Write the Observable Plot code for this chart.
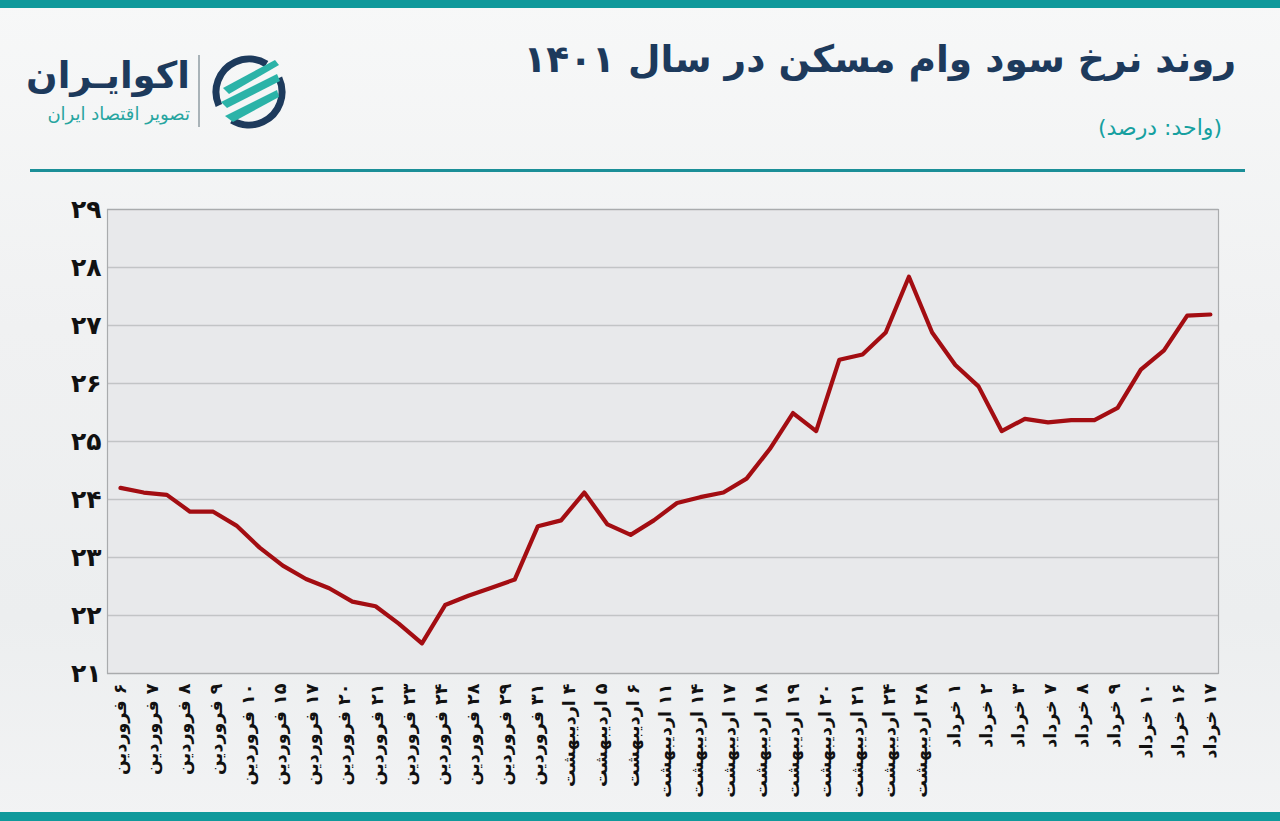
<!DOCTYPE html>
<html lang="fa">
<head>
<meta charset="utf-8">
<script src="https://cdn.jsdelivr.net/npm/d3@7"></script>
<script src="https://cdn.jsdelivr.net/npm/@observablehq/plot@0.6"></script>
<style>
html,body{margin:0;padding:0;}
body{width:1280px;height:821px;position:relative;overflow:hidden;
  background:linear-gradient(180deg,#f7f8f8 0%,#f0f1f2 40%,#eceeef 75%,#f2f3f4 100%);
  font-family:"DejaVu Sans",sans-serif;}
.topbar{position:absolute;left:0;top:0;width:1280px;height:8px;background:#0f999b;}
.botbar{position:absolute;left:0;top:812px;width:1280px;height:9px;background:#0f999b;}
.rule{position:absolute;left:30px;top:169px;width:1215px;height:3px;background:#1b8f98;}
.title{position:absolute;right:44px;top:37px;direction:rtl;font-weight:bold;font-size:37.5px;color:#1d3a5c;white-space:nowrap;}
.sub{position:absolute;right:58px;top:115px;direction:rtl;font-size:22px;color:#16a0a0;white-space:nowrap;}
.brand{position:absolute;right:1090px;top:54px;direction:rtl;font-weight:bold;font-size:37px;color:#1d3a5c;white-space:nowrap;}
.tag{position:absolute;right:1090px;top:103px;direction:rtl;font-size:18px;color:#27a5a0;white-space:nowrap;letter-spacing:2.6px;}
.divider{position:absolute;left:198px;top:55px;width:2px;height:72px;background:#a9b3b8;}
.icon{position:absolute;left:209px;top:52px;}
#chart{position:absolute;left:0;top:180px;}
</style>
</head>
<body>
<div class="topbar"></div>
<div class="title">روند نرخ سود وام مسکن در سال ۱۴۰۱</div>
<div class="sub">(واحد: درصد)</div>
<div class="brand">اکوایـران</div>
<div class="tag">تصویر اقتصاد ایران</div>
<div class="divider"></div>
<svg class="icon" width="80" height="80" viewBox="0 0 80 80">
  <circle cx="40" cy="40" r="33" fill="none" stroke="#1d3a5c" stroke-width="7" stroke-dasharray="84 20 84 20" transform="rotate(-25 40 40)"/>
  <g fill="#2bb3a8">
    <polygon points="14,36 66,8 70,13 20,42"/>
    <polygon points="12,50 68,22 71,29 18,56"/>
    <polygon points="16,64 68,38 70,45 24,70"/>
  </g>
</svg>
<div class="rule"></div>
<div id="chart"></div>
<div class="botbar"></div>
<script>
// x-axis category labels (35)
const xLabels = [
  "۶ فروردین","۷ فروردین","۸ فروردین","۹ فروردین","۱۰ فروردین","۱۵ فروردین","۱۷ فروردین",
  "۲۰ فروردین","۲۱ فروردین","۲۳ فروردین","۲۴ فروردین","۲۸ فروردین","۲۹ فروردین","۳۱ فروردین",
  "۴ اردیبهشت","۵ اردیبهشت","۶ اردیبهشت","۱۱ اردیبهشت","۱۴ اردیبهشت","۱۷ اردیبهشت","۱۸ اردیبهشت",
  "۱۹ اردیبهشت","۲۰ اردیبهشت","۲۱ اردیبهشت","۲۴ اردیبهشت","۲۸ اردیبهشت",
  "۱ خرداد","۲ خرداد","۳ خرداد","۷ خرداد","۸ خرداد","۹ خرداد","۱۰ خرداد","۱۶ خرداد","۱۷ خرداد"
];
// interest rate series (48 observations, percent)
const rates = [
  24.20, 24.12, 24.08, 23.79, 23.79, 23.55, 23.17, 22.86, 22.63, 22.47,
  22.24, 22.16, 21.86, 21.52, 22.18, 22.34, 22.48, 22.62, 23.54, 23.64,
  24.12, 23.57, 23.39, 23.64, 23.94, 24.04, 24.12, 24.36, 24.87, 25.49,
  25.18, 26.41, 26.50, 26.88, 27.84, 26.88, 26.32, 25.95, 25.18, 25.39,
  25.33, 25.37, 25.37, 25.58, 26.24, 26.57, 27.17, 27.19
];
const yTicks = [21, 22, 23, 24, 25, 26, 27, 28, 29];

const fa = s => String(s).replace(/\d/g, c => "۰۱۲۳۴۵۶۷۸۹"[c]);
const n = rates.length, m = xLabels.length;
const tickPos = xLabels.map((_, i) => i * (n - 1) / (m - 1));
const labelAt = new Map(tickPos.map((p, i) => [p, xLabels[i]]));
const data = rates.map((v, i) => ({i, v}));

const chart = Plot.plot({
  width: 1280,
  height: 632,
  marginLeft: 107,
  marginRight: 62,
  marginTop: 29,
  marginBottom: 139,
  style: {background: "transparent", fontFamily: "DejaVu Sans, sans-serif", overflow: "visible"},
  x: {domain: [-0.56, 47.35]},
  y: {domain: [21, 29]},
  marks: [
    Plot.frame({fill: "#e8e9eb", stroke: null}),
    Plot.gridY(yTicks, {stroke: "#c2c4c6", strokeOpacity: 1, strokeWidth: 1.3}),
    Plot.frame({stroke: "#a9abad", strokeWidth: 1.2}),
    Plot.line(data, {x: "i", y: "v", stroke: "#a30d12", strokeWidth: 4.2, strokeLinejoin: "round"}),
    Plot.axisY({ticks: yTicks, tickSize: 0, tickPadding: 6, tickFormat: fa,
      fontSize: 25, fontWeight: "bold", fill: "#111", label: null}),
    Plot.axisX({ticks: tickPos, tickSize: 0, tickPadding: 10, tickRotate: -90,
      tickFormat: d => "\u200F" + labelAt.get(d),
      fontSize: 17.5, fontWeight: "bold", fill: "#111", label: null})
  ]
});
document.getElementById("chart").appendChild(chart);
</script>
</body>
</html>
